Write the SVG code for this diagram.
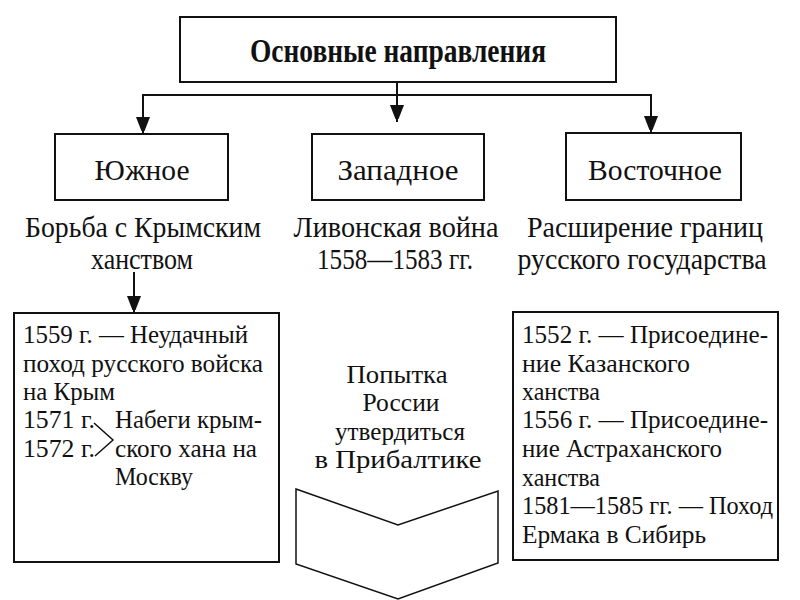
<svg xmlns="http://www.w3.org/2000/svg" width="800" height="600" viewBox="0 0 800 600">
<defs>
<style>
.box{fill:none;stroke:#111;stroke-width:2}
.ln{fill:none;stroke:#111;stroke-width:2}
text{font-family:"Liberation Serif","Times New Roman",serif;fill:#111}
.t{font-size:30px}
.m{font-size:26px}
.b{font-size:26px}
.h{font-size:34px;font-weight:bold}
.c{text-anchor:middle}
</style>
<marker id="ah" markerWidth="14" markerHeight="20" refX="17" refY="7" orient="auto" markerUnits="userSpaceOnUse">
<path d="M0,0 L18,7 L0,14 Z" fill="#111"/>
</marker>
</defs>
<rect width="800" height="600" fill="#fff"/>

<g id="connectors">
<line class="ln" x1="397" y1="82" x2="397" y2="95"/>
<line class="ln" x1="143" y1="95" x2="651" y2="95"/>
<line class="ln" x1="397" y1="95" x2="397" y2="122" marker-end="url(#ah)"/>
<line class="ln" x1="143" y1="94" x2="143" y2="134" marker-end="url(#ah)"/>
<line class="ln" x1="651" y1="94" x2="651" y2="133" marker-end="url(#ah)"/>
<line class="ln" x1="134" y1="272" x2="134" y2="313" marker-end="url(#ah)"/>
</g>

<g id="main">
<rect class="box" x="180" y="17" width="436" height="65"/>
<text class="h c" x="398" y="62" textLength="296" lengthAdjust="spacingAndGlyphs">Основные направления</text>
</g>

<g id="south">
<rect class="box" x="55" y="134" width="173" height="66"/>
<text class="t c" x="142" y="180" textLength="95" lengthAdjust="spacingAndGlyphs">Южное</text>
</g>
<g id="west">
<rect class="box" x="312" y="134" width="172" height="66"/>
<text class="t c" x="398" y="180" textLength="121" lengthAdjust="spacingAndGlyphs">Западное</text>
</g>
<g id="east">
<rect class="box" x="566" y="133" width="175" height="67"/>
<text class="t c" x="655" y="180" textLength="134" lengthAdjust="spacingAndGlyphs">Восточное</text>
</g>

<g id="south-desc">
<text class="t c" x="143" y="237" textLength="236" lengthAdjust="spacingAndGlyphs">Борьба с Крымским</text>
<text class="t c" x="142" y="269" textLength="102" lengthAdjust="spacingAndGlyphs">ханством</text>
</g>
<g id="west-desc">
<text class="t c" x="396" y="237" textLength="205" lengthAdjust="spacingAndGlyphs">Ливонская война</text>
<text class="t c" x="395" y="269" textLength="156" lengthAdjust="spacingAndGlyphs">1558—1583 гг.</text>
</g>
<g id="east-desc">
<text class="t c" x="645" y="237" textLength="236" lengthAdjust="spacingAndGlyphs">Расширение границ</text>
<text class="t c" x="642" y="269" textLength="249" lengthAdjust="spacingAndGlyphs">русского государства</text>
</g>

<g id="south-events">
<rect class="box" x="14" y="313" width="265" height="249"/>
<text class="b" x="23" y="343" textLength="225" lengthAdjust="spacingAndGlyphs">1559 г. — Неудачный</text>
<text class="b" x="23" y="372" textLength="240" lengthAdjust="spacingAndGlyphs">поход русского войска</text>
<text class="b" x="23" y="400" textLength="92" lengthAdjust="spacingAndGlyphs">на Крым</text>
<text class="b" x="23" y="428" textLength="72" lengthAdjust="spacingAndGlyphs">1571 г.</text>
<text class="b" x="23" y="457" textLength="72" lengthAdjust="spacingAndGlyphs">1572 г.</text>
<polyline class="ln" style="stroke-width:1.5" points="94,423 113,440 95,456"/>
<text class="b" x="115" y="428" textLength="147" lengthAdjust="spacingAndGlyphs">Набеги крым-</text>
<text class="b" x="115" y="457" textLength="142" lengthAdjust="spacingAndGlyphs">ского хана на</text>
<text class="b" x="115" y="485" textLength="78" lengthAdjust="spacingAndGlyphs">Москву</text>
</g>

<g id="west-events">
<text class="m c" x="397" y="383" textLength="101" lengthAdjust="spacingAndGlyphs">Попытка</text>
<text class="m c" x="401" y="411" textLength="77" lengthAdjust="spacingAndGlyphs">России</text>
<text class="m c" x="400" y="440" textLength="130" lengthAdjust="spacingAndGlyphs">утвердиться</text>
<text class="m c" x="398" y="468" textLength="167" lengthAdjust="spacingAndGlyphs">в Прибалтике</text>
<polygon class="box" style="stroke-width:1.5" points="296,489 398,525 498,491 498,563 398,599 296,564"/>
</g>

<g id="east-events">
<rect class="box" x="513" y="312" width="265" height="248"/>
<text class="b" x="522" y="343" textLength="246" lengthAdjust="spacingAndGlyphs">1552 г. — Присоедине-</text>
<text class="b" x="522" y="372" textLength="168" lengthAdjust="spacingAndGlyphs">ние Казанского</text>
<text class="b" x="522" y="400" textLength="78" lengthAdjust="spacingAndGlyphs">ханства</text>
<text class="b" x="522" y="428" textLength="246" lengthAdjust="spacingAndGlyphs">1556 г. — Присоедине-</text>
<text class="b" x="522" y="457" textLength="200" lengthAdjust="spacingAndGlyphs">ние Астраханского</text>
<text class="b" x="522" y="486" textLength="78" lengthAdjust="spacingAndGlyphs">ханства</text>
<text class="b" x="522" y="514" textLength="251" lengthAdjust="spacingAndGlyphs">1581—1585 гг. — Поход</text>
<text class="b" x="522" y="543" textLength="184" lengthAdjust="spacingAndGlyphs">Ермака в Сибирь</text>
</g>
</svg>
